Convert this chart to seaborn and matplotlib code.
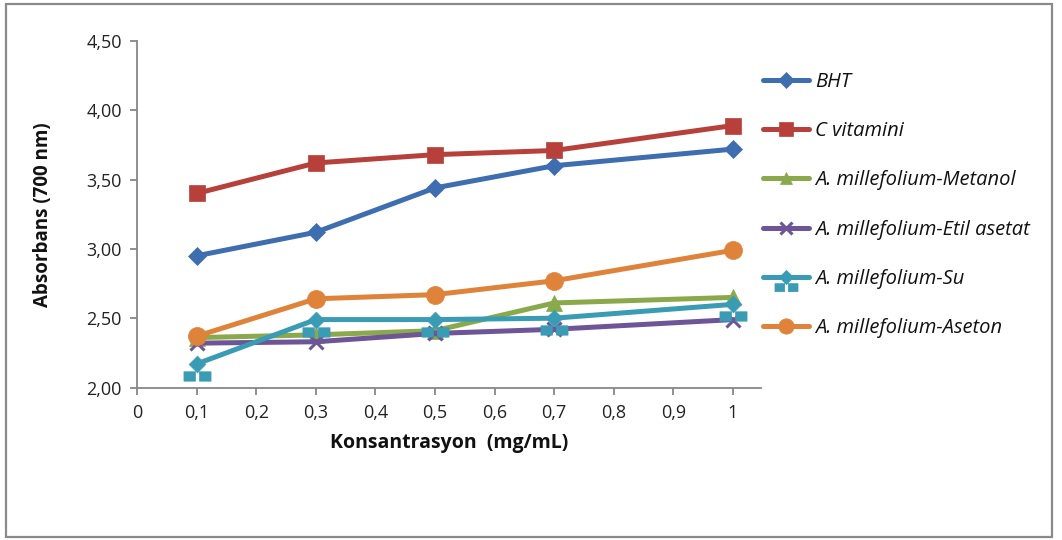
import numpy as np
import pandas as pd
import matplotlib
matplotlib.use("Agg")
import matplotlib.pyplot as plt
from matplotlib.path import Path
from matplotlib.patches import Rectangle
from matplotlib.ticker import FixedLocator, FuncFormatter
import seaborn as sns

# Concentrations (mg/mL)
konsantrasyon = [0.1, 0.3, 0.5, 0.7, 1.0]

# Absorbance at 700 nm for each sample
bht = [2.95, 3.12, 3.44, 3.60, 3.72]
c_vitamini = [3.40, 3.62, 3.68, 3.71, 3.89]
metanol = [2.36, 2.38, 2.41, 2.61, 2.65]
etil_asetat = [2.32, 2.33, 2.39, 2.42, 2.49]
su = [2.17, 2.49, 2.49, 2.50, 2.60]
aseton = [2.37, 2.64, 2.67, 2.77, 2.99]

series_names = [
    "BHT",
    "C vitamini",
    "A. millefolium-Metanol",
    "A. millefolium-Etil asetat",
    "A. millefolium-Su",
    "A. millefolium-Aseton",
]
series_values = [bht, c_vitamini, metanol, etil_asetat, su, aseton]

x_ticks = [0, 0.1, 0.2, 0.3, 0.4, 0.5, 0.6, 0.7, 0.8, 0.9, 1.0]
y_ticks = [2.0, 2.5, 3.0, 3.5, 4.0, 4.5]

colors = ["#3E6DB0", "#B7403B", "#89A94A", "#6D5597", "#3A9BB4", "#E0833A"]

# Diamond with a pair of small squares underneath
su_verts = [
    (0, 8), (8, 0), (0, -8), (-8, 0), (0, 8),
    (-13, -7), (-2, -7), (-2, -16), (-13, -16), (-13, -7),
    (2, -7), (13, -7), (13, -16), (2, -16), (2, -7),
]
su_codes = ([Path.MOVETO] + [Path.LINETO] * 3 + [Path.CLOSEPOLY]) * 3
su_marker = Path(su_verts, su_codes)

markers = ["D", "s", "^", "x", su_marker, "o"]
marker_sizes = [9, 12, 11, 10, 24, 13]

frames = []
for name, vals in zip(series_names, series_values):
    frames.append(pd.DataFrame({"Konsantrasyon": konsantrasyon,
                                "Absorbans": vals, "Seri": name}))
df = pd.concat(frames, ignore_index=True)

sns.set_theme(style="white")
plt.rcParams["font.family"] = ["Open Sans", "DejaVu Sans"]

fig = plt.figure(figsize=(10.62, 5.40), dpi=100)
ax = fig.add_axes([0.129, 0.2824, 0.5876, 0.6417])

for name, col, mk, ms in zip(series_names, colors, markers, marker_sizes):
    sub = df[df["Seri"] == name]
    sns.lineplot(data=sub, x="Konsantrasyon", y="Absorbans", ax=ax,
                 color=col, linewidth=3.6, marker=mk, markersize=ms,
                 markeredgecolor=col, markeredgewidth=2.2 if mk == "x" else 0.5,
                 markerfacecolor=col, label=name, sort=False)

ax.set_xlim(0, 1.047)
ax.set_ylim(2.0, 4.5)
ax.xaxis.set_major_locator(FixedLocator(x_ticks))
ax.yaxis.set_major_locator(FixedLocator(y_ticks))


def fmt_x(v, pos):
    s = f"{v:.1f}".rstrip("0").rstrip(".")
    return s.replace(".", ",")


ax.xaxis.set_major_formatter(FuncFormatter(fmt_x))
ax.yaxis.set_major_formatter(FuncFormatter(lambda v, p: f"{v:.2f}".replace(".", ",")))

axis_gray = "#878787"
for side in ["top", "right"]:
    ax.spines[side].set_visible(False)
for side in ["left", "bottom"]:
    ax.spines[side].set_color(axis_gray)
    ax.spines[side].set_linewidth(1.3)

ax.tick_params(axis="both", which="major", direction="out", length=5,
               width=1.3, color=axis_gray, labelsize=13, labelcolor="#222222",
               left=True, bottom=True)
ax.tick_params(axis="y", pad=6)
ax.tick_params(axis="x", pad=7)
ax.grid(False)

ax.set_xlabel("Konsantrasyon  (mg/mL)", fontsize=14, fontweight="bold",
              color="#111111", labelpad=8)
ax.set_ylabel("Absorbans (700 nm)", fontsize=13.5, fontweight="bold",
              color="#111111", labelpad=24)

handles, labels = ax.get_legend_handles_labels()
leg = fig.legend(handles, labels, loc="upper left",
                 bbox_to_anchor=(763 / 1062, 1 - 72 / 540),
                 frameon=False, handlelength=2.3, handletextpad=0.3,
                 labelspacing=1.45, borderaxespad=0, borderpad=0,
                 prop={"style": "italic", "size": 14.5})
for h in leg.legend_handles:
    h.set_markersize(h.get_markersize() * 0.85)
for t in leg.get_texts():
    t.set_color("#111111")
if ax.get_legend() is not None:
    ax.get_legend().remove()

# Outer chart border
fig.patches.append(Rectangle((6 / 1062, 3 / 540), 1046 / 1062, 533 / 540,
                             transform=fig.transFigure, fill=False,
                             edgecolor="#8a8a8a", linewidth=1.6))

fig.savefig("out.png", dpi=100, facecolor="white")
